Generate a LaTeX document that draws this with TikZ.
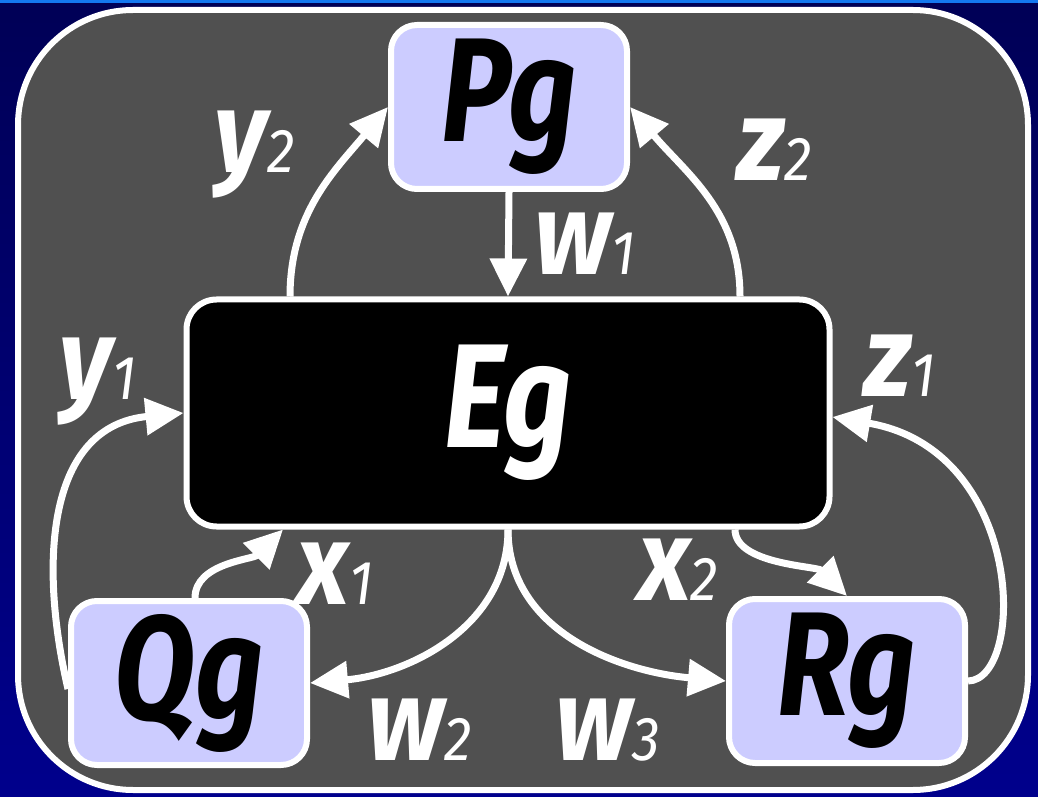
\documentclass[tikz,border=0pt]{standalone}
\usepackage{fontspec}
\setmainfont{Fira Sans}
\newfontfamily\boxfont[FakeStretch=0.8]{Fira Sans}
\newfontfamily\labfont[FakeStretch=0.9]{Fira Sans}
\usepackage{xcolor}
\usetikzlibrary{arrows.meta, calc}

\definecolor{panelgrey}{HTML}{505050}
\definecolor{lavender}{HTML}{CCCCFF}
\definecolor{navytop}{HTML}{000056}
\definecolor{navybot}{HTML}{00008C}
\definecolor{edgeblue}{HTML}{1478F0}

% label with a small subscript
\newcommand{\flowlab}[2]{#1{\fontsize{62}{62}\selectfont\mdseries #2}}

\begin{document}
\begin{tikzpicture}[x=1pt,y=1pt,
    gbox/.style={draw=white, line width=6pt, fill=lavender, rounded corners=26pt,
      minimum width=236pt, minimum height=164pt, text=black,
      font=\boxfont\fontsize{148}{148}\selectfont\bfseries\itshape},
    ebox/.style={draw=white, line width=6pt, fill=black, rounded corners=30pt,
      minimum width=643pt, minimum height=227pt, text=white,
      font=\boxfont\fontsize{148}{148}\selectfont\bfseries\itshape},
    flow/.style={white, line width=7pt, -{Triangle[length=38pt,width=36pt]}},
    lbl/.style={text=white, inner sep=0pt,
      font=\labfont\fontsize{116}{116}\selectfont\bfseries\itshape}]
  % Background and panel
  \useasboundingbox (0,0) rectangle (1038,796);
  \shade[top color=navytop, bottom color=navybot] (0,0) rectangle (1038,796);
  \fill[edgeblue] (0,793) rectangle (1038,796);
  \draw[white, line width=6pt, fill=panelgrey, rounded corners=115pt]
    (18,6) rectangle (1028,786);

  % Nodes
  \node[gbox] (Pg) at (509,689) {Pg};
  \node[ebox] (Eg) at (508,383) {Eg};
  \node[gbox] (Qg) at (189,113) {Qg};
  \node[gbox] (Rg) at (847,115) {Rg};

  % Connections with Pg
  \draw[flow] (Pg.south) -- (Eg.north);
  \draw[flow] ([xshift=-218pt]Eg.north) to[out=90,in=-130] (Pg.west);
  \draw[flow] ([xshift=232pt]Eg.north) to[out=90,in=-50] (Pg.east);

  % Outer loops
  \draw[flow] ([yshift=-6pt]Qg.west) .. controls (38,236) and (48,370) .. (Eg.west);
  \draw[flow] (Rg.east) .. controls (1026,116) and (1026,346) .. ([yshift=-4pt]Eg.east);

  % Short links
  \draw[flow] ([xshift=6pt]Qg.north) .. controls +(0,35) and +(-30,-30) .. ([xshift=-225pt]Eg.south);
  \draw[flow] ([xshift=227pt]Eg.south) .. controls +(0,-35) and +(-30,30) .. (Rg.north);

  % From Eg down
  \draw[flow] (Eg.south) to[out=-90,in=5] (Qg.east);
  \draw[flow] (Eg.south) to[out=-90,in=175] (Rg.west);

  % Labels
  \node[lbl] (ly2) at (255,641) {\flowlab{y}{2}};
  \node[lbl] (lz2) at (775,646) {\flowlab{z}{2}};
  \node[lbl] (lw1) at (585,552) {\flowlab{w}{1}};
  \node[lbl] (ly1) at (98,414) {\flowlab{y}{1}};
  \node[lbl] (lz1) at (900,430) {\flowlab{z}{1}};
  \node[lbl] (lx1) at (335,222) {\flowlab{x}{1}};
  \node[lbl] (lx2) at (678,226) {\flowlab{x}{2}};
  \node[lbl] (lw2) at (420,66) {\flowlab{w}{2}};
  \node[lbl] (lw3) at (608,66) {\flowlab{w}{3}};
\end{tikzpicture}
\end{document}
